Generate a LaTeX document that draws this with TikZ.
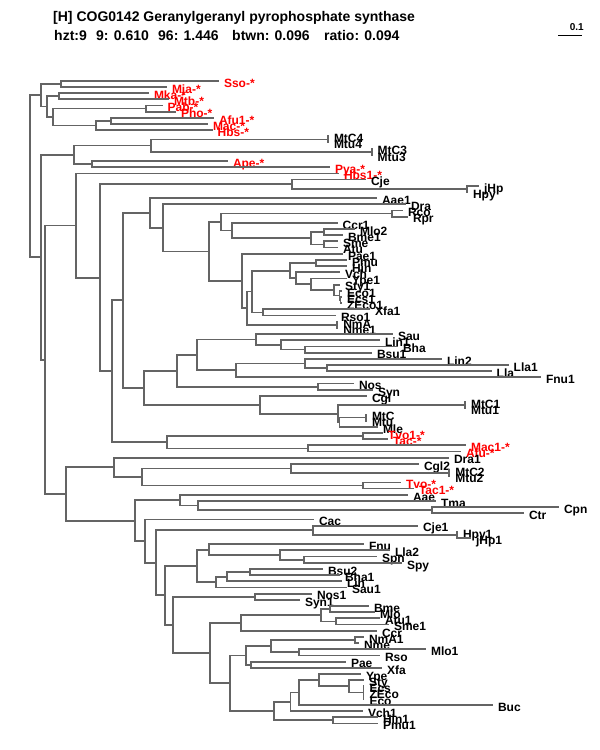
\documentclass[tikz,border=0pt]{standalone}
\usepackage{fontspec}
\setmainfont{Liberation Sans}
\usetikzlibrary{calc}
\definecolor{brc}{RGB}{100,100,100}
\definecolor{arch}{RGB}{255,0,0}
\tikzset{
  branch/.style={draw=brc, line width=1.8pt, line cap=rect},
  lab/.style={font=\bfseries\fontsize{12}{12}\selectfont, anchor=base west, inner sep=0pt, outer sep=0pt},
  hdr/.style={font=\bfseries\fontsize{14}{14}\selectfont, anchor=base west, inner sep=0pt},
}
\newcommand\Lf[5]{%
  \pgfmathsetmacro\lfy{80.7+6.18*#2}%
  \coordinate (#1) at (#3,\lfy);
  \node[lab,text=#5] (#1t) at ([xshift=6pt,yshift=-6.3pt]#1) {#4};
}
\newcommand\Nd[4]{%
  \path let \p1=($(#3)!.5!(#4)$) in coordinate (#1) at (#2pt,\y1);
  \draw[branch] (#1 |- #3) -- (#1 |- #4);
  \draw[branch] (#1 |- #3) -- (#3);
  \draw[branch] (#1 |- #4) -- (#4);
}
\begin{document}
\begin{tikzpicture}[x=1pt,y=-1pt]
\fill[white] (0,0) rectangle (600,750);
\useasboundingbox (0,0) rectangle (600,750);
% header
\node[hdr] (title) at (53,21) {[H] COG0142 Geranylgeranyl pyrophosphate synthase};
\node[hdr] (h1) at (54,40) {hzt:9};
\node[hdr] (h2) at (96,40) {9: 0.610};
\node[hdr] (h3) at (158,40) {96: 1.446};
\node[hdr] (h4) at (232,40) {btwn: 0.096};
\node[hdr] (h5) at (324,40) {ratio: 0.094};
\coordinate (sbl) at (558,35);
\coordinate (sbr) at (582,35);
\draw[black, line width=1pt] (sbl) -- (sbr);
\node[font=\bfseries\fontsize{10}{10}\selectfont, anchor=base east, inner sep=0pt] (sbt) at (584,30) {0.1};
% leaves
\Lf{Sso}{0}{218}{Sso-*}{arch}
\Lf{Mja}{1}{166}{Mja-*}{arch}
\Lf{Mka}{2}{148}{Mka-*}{arch}
\Lf{Mtb}{3}{168}{Mtb-*}{arch}
\Lf{Pab}{4}{161.7}{Pab-*}{arch}
\Lf{Pho}{5}{175}{Pho-*}{arch}
\Lf{AfuA}{6}{213}{Afu1-*}{arch}
\Lf{Mac}{7}{207}{Mac-*}{arch}
\Lf{Hbs}{8}{211.7}{Hbs-*}{arch}
\Lf{MtCiv}{9}{328}{MtC4}{black}
\Lf{Mtuiv}{10}{328}{Mtu4}{black}
\Lf{MtCiii}{11}{371.7}{MtC3}{black}
\Lf{Mtuiii}{12}{371.7}{Mtu3}{black}
\Lf{Ape}{13}{227}{Ape-*}{arch}
\Lf{Pya}{14}{329}{Pya-*}{arch}
\Lf{HbsA}{15}{338}{Hbs1-*}{arch}
\Lf{Cje}{16}{365}{Cje}{black}
\Lf{jHp}{17}{478}{jHp}{black}
\Lf{Hpy}{18}{467}{Hpy}{black}
\Lf{AaeA}{19}{376}{Aae1}{black}
\Lf{Dra}{20}{405}{Dra}{black}
\Lf{Rco}{21}{402}{Rco}{black}
\Lf{Rpr}{22}{407}{Rpr}{black}
\Lf{CcrA}{23}{336.7}{Ccr1}{black}
\Lf{MloB}{24}{354}{Mlo2}{black}
\Lf{BmeA}{25}{342}{Bme1}{black}
\Lf{Sme}{26}{337}{Sme}{black}
\Lf{Atu}{27}{337}{Atu}{black}
\Lf{PaeA}{28}{342}{Pae1}{black}
\Lf{Pmu}{29}{346}{Pmu}{black}
\Lf{Hin}{30}{346}{Hin}{black}
\Lf{Vch}{31}{339}{Vch}{black}
\Lf{YpeA}{32}{346}{Ype1}{black}
\Lf{StyA}{33}{339}{Sty1}{black}
\Lf{EcoA}{34}{341}{Eco1}{black}
\Lf{EcsA}{35}{341}{Ecs1}{black}
\Lf{ZEcoA}{36}{341}{ZEco1}{black}
\Lf{XfaA}{37}{369}{Xfa1}{black}
\Lf{RsoA}{38}{335}{Rso1}{black}
\Lf{NmA}{39}{337.3}{NmA}{black}
\Lf{NmeA}{40}{337.3}{Nme1}{black}
\Lf{Sau}{41}{392}{Sau}{black}
\Lf{LinA}{42}{379}{Lin1}{black}
\Lf{Bha}{43}{397}{Bha}{black}
\Lf{BsuA}{44}{371}{Bsu1}{black}
\Lf{LinB}{45}{441}{Lin2}{black}
\Lf{LlaA}{46}{507.7}{Lla1}{black}
\Lf{Lla}{47}{490.7}{Lla}{black}
\Lf{FnuA}{48}{540}{Fnu1}{black}
\Lf{Nos}{49}{353}{Nos}{black}
\Lf{Syn}{50}{372}{Syn}{black}
\Lf{Cgl}{51}{366}{Cgl}{black}
\Lf{MtCi}{52}{465}{MtC1}{black}
\Lf{Mtui}{53}{465}{Mtu1}{black}
\Lf{MtC}{54}{366}{MtC}{black}
\Lf{Mtu}{55}{366}{Mtu}{black}
\Lf{Mle}{56}{377}{Mle}{black}
\Lf{TvoA}{57}{382}{Tvo1-*}{arch}
\Lf{Tac}{58}{387}{Tac-*}{arch}
\Lf{MacA}{59}{465}{Mac1-*}{arch}
\Lf{Afu}{60}{460}{Afu-*}{arch}
\Lf{DraA}{61}{448}{Dra1}{black}
\Lf{CglB}{62}{418}{Cgl2}{black}
\Lf{MtCii}{63}{449.3}{MtC2}{black}
\Lf{Mtuii}{64}{449.3}{Mtu2}{black}
\Lf{Tvo}{65}{400}{Tvo-*}{arch}
\Lf{TacA}{66}{413}{Tac1-*}{arch}
\Lf{Aae}{67}{407}{Aae}{black}
\Lf{Tma}{68}{435}{Tma}{black}
\Lf{Cpn}{69}{558}{Cpn}{black}
\Lf{Ctr}{70}{523}{Ctr}{black}
\Lf{Cac}{71}{313}{Cac}{black}
\Lf{CjeA}{72}{417}{Cje1}{black}
\Lf{HpyA}{73}{457}{Hpy1}{black}
\Lf{jHpA}{74}{470}{jHp1}{black}
\Lf{Fnu}{75}{363}{Fnu}{black}
\Lf{LlaB}{76}{389}{Lla2}{black}
\Lf{Spn}{77}{376}{Spn}{black}
\Lf{Spy}{78}{401}{Spy}{black}
\Lf{BsuB}{79}{322}{Bsu2}{black}
\Lf{BhaA}{80}{339}{Bha1}{black}
\Lf{Lin}{81}{341}{Lin}{black}
\Lf{SauA}{82}{346}{Sau1}{black}
\Lf{NosA}{83}{311}{Nos1}{black}
\Lf{SynA}{84}{299}{Syn1}{black}
\Lf{Bme}{85}{368}{Bme}{black}
\Lf{Mlo}{86}{374}{Mlo}{black}
\Lf{AtuA}{87}{379}{Atu1}{black}
\Lf{SmeA}{88}{388}{Sme1}{black}
\Lf{Ccr}{89}{376}{Ccr}{black}
\Lf{NmAA}{90}{363}{NmA1}{black}
\Lf{Nme}{91}{358}{Nme}{black}
\Lf{MloA}{92}{425}{Mlo1}{black}
\Lf{Rso}{93}{379}{Rso}{black}
\Lf{Pae}{94}{345}{Pae}{black}
\Lf{Xfa}{95}{381}{Xfa}{black}
\Lf{Ype}{96}{360}{Ype}{black}
\Lf{Sty}{97}{363}{Sty}{black}
\Lf{Ecs}{98}{363.5}{Ecs}{black}
\Lf{ZEco}{99}{363.5}{ZEco}{black}
\Lf{Eco}{100}{363.5}{Eco}{black}
\Lf{Buc}{101}{492}{Buc}{black}
\Lf{VchA}{102}{362}{Vch1}{black}
\Lf{HinA}{103}{377}{Hin1}{black}
\Lf{PmuA}{104}{377}{Pmu1}{black}
% internal nodes
\Nd{a1}{61}{Sso}{Mja}
\Nd{a2}{59}{Mka}{Mtb}
\Nd{a3}{145.7}{Pab}{Pho}
\Nd{a4}{111}{AfuA}{Mac}
\Nd{a5}{96}{a4}{Hbs}
\Nd{a6}{52.7}{a3}{a5}
\Nd{a7}{46.7}{a2}{a6}
\Nd{a8}{40.7}{a1}{a7}
\Nd{m4}{328}{MtCiv}{Mtuiv}
\Nd{m3}{371.7}{MtCiii}{Mtuiii}
\Nd{mm}{150.7}{m4}{m3}
\Nd{ap}{91.7}{Ape}{Pya}
\Nd{nA}{74}{mm}{ap}
\Nd{hp}{466.7}{jHp}{Hpy}
\Nd{cj}{291.7}{Cje}{hp}
\Nd{rr}{391.7}{Rco}{Rpr}
\Nd{mb}{323.7}{MloB}{BmeA}
\Nd{sa}{323.7}{Sme}{Atu}
\Nd{p2}{311}{mb}{sa}
\Nd{o1}{232.3}{CcrA}{p2}
\Nd{mM}{220.7}{rr}{o1}
\Nd{ph}{315.7}{Pmu}{Hin}
\Nd{ez}{340.5}{EcsA}{ZEcoA}
\Nd{ec}{339.5}{EcoA}{ez}
\Nd{sy}{334}{StyA}{ec}
\Nd{yy}{311}{YpeA}{sy}
\Nd{vv}{295.7}{Vch}{yy}
\Nd{ss}{290}{ph}{vv}
\Nd{xr}{263.3}{XfaA}{RsoA}
\Nd{rR}{251.7}{ss}{xr}
\Nd{nm}{337.3}{NmA}{NmeA}
\Nd{q2}{246.7}{rR}{nm}
\Nd{nN}{241.7}{PaeA}{q2}
\Nd{nL}{208.7}{mM}{nN}
\Nd{nK}{163.3}{Dra}{nL}
\Nd{nI}{149.7}{AaeA}{nK}
\Nd{bb}{305}{Bha}{BsuA}
\Nd{l1}{281}{LinA}{bb}
\Nd{s1}{256}{Sau}{l1}
\Nd{ll}{326.7}{LlaA}{Lla}
\Nd{l2}{305}{LinB}{ll}
\Nd{f1}{236}{l2}{FnuA}
\Nd{n197}{197}{s1}{f1}
\Nd{ns}{318.3}{Nos}{Syn}
\Nd{n177}{176.7}{n197}{ns}
\Nd{t1}{465}{MtCi}{Mtui}
\Nd{t2}{366}{MtC}{Mtu}
\Nd{mx}{339.5}{t2}{Mle}
\Nd{m1}{338.3}{t1}{mx}
\Nd{n260}{260}{Cgl}{m1}
\Nd{nJ}{144}{n177}{n260}
\Nd{nG}{122.7}{nI}{nJ}
\Nd{tt}{362.7}{TvoA}{Tac}
\Nd{ma}{308.3}{MacA}{Afu}
\Nd{nH}{166.7}{tt}{ma}
\Nd{nF}{111.7}{nG}{nH}
\Nd{nE}{100}{cj}{nF}
\Nd{nC}{76}{HbsA}{nE}
\Nd{t3}{449.3}{MtCii}{Mtuii}
\Nd{cg}{291}{CglB}{t3}
\Nd{tv}{362.7}{Tvo}{TacA}
\Nd{n142}{142.3}{cg}{tv}
\Nd{nV1}{114}{DraA}{n142}
\Nd{cc}{431.7}{Cpn}{Ctr}
\Nd{tm}{198}{Tma}{cc}
\Nd{nX}{180}{Aae}{tm}
\Nd{hh}{456.7}{HpyA}{jHpA}
\Nd{cjh}{313.3}{CjeA}{hh}
\Nd{sp}{304}{Spn}{Spy}
\Nd{l2b}{280}{LlaB}{sp}
\Nd{n209}{209}{Fnu}{l2b}
\Nd{bs}{250}{BsuB}{BhaA}
\Nd{n227}{226.7}{bs}{Lin}
\Nd{n216}{216}{n227}{SauA}
\Nd{n197b}{196.7}{n209}{n216}
\Nd{ns1}{255}{NosA}{SynA}
\Nd{bm}{330}{Bme}{Mlo}
\Nd{as}{336}{AtuA}{SmeA}
\Nd{n321}{320.7}{bm}{as}
\Nd{n241}{240.7}{n321}{Ccr}
\Nd{t4}{355}{NmAA}{Nme}
\Nd{mr}{299}{MloA}{Rso}
\Nd{n271}{271}{t4}{mr}
\Nd{px}{250.8}{Pae}{Xfa}
\Nd{n246}{246}{n271}{px}
\Nd{e2}{363.5}{Ecs}{Eco}
\Nd{n349}{349}{Sty}{e2}
\Nd{ys}{319}{Ype}{n349}
\Nd{n299}{299}{ys}{Buc}
\Nd{n290}{290.4}{n299}{VchA}
\Nd{hpm}{332.7}{HinA}{PmuA}
\Nd{n274}{273.8}{n290}{hpm}
\Nd{n230}{230}{n246}{n274}
\Nd{n210}{209.6}{n241}{n230}
\Nd{n173}{172.7}{ns1}{n210}
\Nd{n165}{165}{n197b}{n173}
\Nd{n156}{156}{cjh}{n165}
\Nd{n145}{145}{Cac}{n156}
\Nd{nW}{135}{nX}{n145}
\Nd{nD}{66}{nV1}{nW}
\Nd{nB}{45.3}{nC}{nD}
\Nd{nM}{40.7}{nA}{nB}
\Nd{root}{30}{a8}{nM}
\end{tikzpicture}
\end{document}
